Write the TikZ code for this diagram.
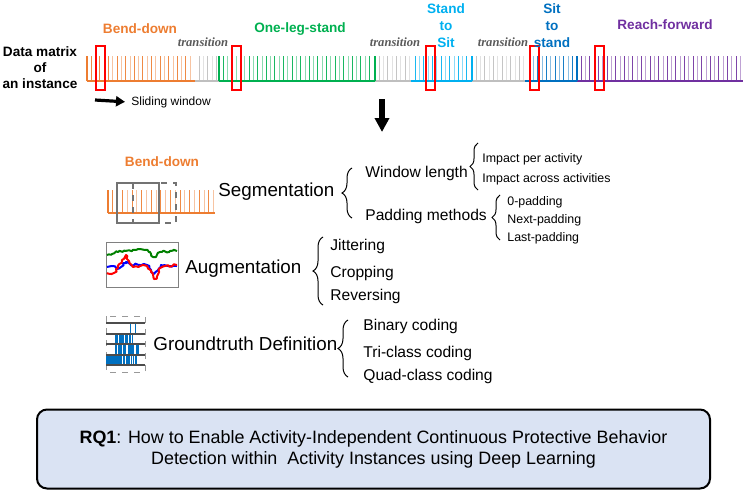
\documentclass[tikz,border=0pt]{standalone}
\usepackage{fontspec}
\setmainfont{Liberation Sans}
\newfontfamily\transfont{Liberation Serif}
\usetikzlibrary{arrows.meta,decorations.pathreplacing,decorations.pathmorphing}

\definecolor{bendc}{RGB}{237,125,49}
\definecolor{legc}{RGB}{0,176,80}
\definecolor{sitc}{RGB}{0,176,240}
\definecolor{standc}{RGB}{0,112,192}
\definecolor{reachc}{RGB}{112,48,160}
\definecolor{transc}{RGB}{191,191,191}
\definecolor{rqfill}{RGB}{218,227,243}

\begin{document}
\begin{tikzpicture}[x=0.5pt,y=-0.5pt,
  lbl/.style={font=\bfseries\fontsize{6.8}{8.5}\selectfont,align=center,inner sep=0pt},
  trans/.style={font=\transfont\bfseries\itshape\fontsize{6.3}{7}\selectfont,text=black!65,inner sep=0pt},
  big/.style={anchor=mid west,font=\fontsize{9.4}{11}\selectfont,inner sep=0pt},
  sub/.style={anchor=mid west,font=\fontsize{7.8}{9}\selectfont,inner sep=0pt},
  subsub/.style={anchor=mid west,font=\fontsize{6.2}{7}\selectfont,inner sep=0pt},
  win/.style={red,line width=1pt},
  grp/.style={decorate,decoration={brace,amplitude=#1},line width=0.5pt},
  grp/.default=5pt,
  signal/.style={line width=1pt,line join=round,decorate,decoration={random steps,segment length=1pt,amplitude=0.6pt}}]
\useasboundingbox (0,0) rectangle (747,493);
\pgfmathsetseed{7}

% data matrix of one instance
\node[lbl,font=\bfseries\fontsize{6.8}{8}\selectfont] (matrix) at (40,68) {Data matrix\\of\\an instance};
\foreach \xa/\xb/\col in {87/195/bendc,195/219/transc,219/375/legc,375/411/transc,411/472/sitc,472/525/transc,525/577/standc,577/743/reachc}{
  \draw[\col,line width=0.75pt] (\xa,81) -- (\xb,81);
  \pgfmathtruncatemacro\n{(\xb-\xa)/4.3-0.3}
  \foreach \i [evaluate=\i as \op using {0.45+0.45*mod(\i,2)}] in {1,...,\n}
    \draw[\col,line width=0.5pt,opacity=\op] (\xa+4.3*\i,56) -- (\xa+4.3*\i,81);
}
\foreach \xt/\col in {87/bendc,219/legc,375/legc,472/sitc,577/standc}
  \draw[\col,line width=1pt] (\xt,56) -- (\xt,81);
\foreach \wx in {100.5,236.5,430,534,599}
  \draw[win] (\wx-4.5,46) rectangle (\wx+4.5,90);

\node[lbl,text=bendc] (bend) at (140,29) {Bend-down};
\node[lbl,text=legc] (leg) at (300,29) {One-leg-stand};
\node[lbl,text=sitc] (standsit) at (446,26) {Stand\\to\\Sit};
\node[lbl,text=standc] (sitstand) at (552,26) {Sit\\to\\stand};
\node[lbl,text=reachc] (reach) at (665,25) {Reach-forward};
\node[trans] (trans1) at (203,42) {transition};
\node[trans] (trans2) at (395,42) {transition};
\node[trans] (trans3) at (503,42) {transition};

\coordinate (slidestart) at (95,100);
\node[subsub,font=\fontsize{6}{7}\selectfont] (slide) at (131,100) {Sliding window};
\draw[line width=1.6pt,-{Triangle[width=5pt,length=4.5pt]},shorten >=3pt] (slidestart) -- (slide.west);

\coordinate (downtop) at (382,99);
\coordinate (downtip) at (382,132);
\draw[line width=3pt,-{Triangle[width=7pt,length=7pt]}] (downtop) -- (downtip);

% segmentation
\node[lbl,text=bendc] (bendmini) at (162,162) {Bend-down};
\draw[bendc,line width=0.75pt] (108,213) -- (215,213);
\draw[bendc,line width=1pt] (108,190) -- (108,213);
\foreach \i [evaluate=\i as \op using {0.45+0.45*mod(\i,2)}] in {1,...,22}
  \draw[bendc,line width=0.5pt,opacity=\op] (108+4.8*\i,190) -- (108+4.8*\i,213);
\draw[black!55,dashed,line width=0.6pt] (133,183) rectangle (176,223);
\draw[black!55,line width=0.6pt] (117,183) rectangle (159,223);

\node[big] (seg) at (218,191) {Segmentation};
\node[sub] (winlen) at (365,172) {Window length};
\node[sub] (pad) at (365,215) {Padding methods};
\node[subsub] (peract) at (482,157) {Impact per activity};
\node[subsub] (acrossact) at (482,177) {Impact across activities};
\node[subsub] (zeropad) at (507,200) {0-padding};
\node[subsub] (nextpad) at (507,218) {Next-padding};
\node[subsub] (lastpad) at (507,236) {Last-padding};
\draw[grp] (352,218) -- (352,168);
\draw[grp=4pt] (478,190) -- (478,143);
\draw[grp=4pt] (500,240) -- (500,195);

% augmentation
\draw[black!50,line width=0.5pt] (106,242) rectangle (178,287);
\draw[signal,green!50!black] (107,255) -- (112,254) -- (118,252) -- (125,251) -- (135,250) -- (145,250) -- (150,252) -- (153,257) -- (156,257) -- (160,252) -- (170,251) -- (177,251);
\draw[signal,blue] (107,267) -- (113,266) -- (117,269) -- (121,267) -- (126,262) -- (130,264) -- (140,265) -- (147,265) -- (151,270) -- (154,274) -- (157,271) -- (161,265) -- (170,266) -- (177,266);
\draw[signal,red] (107,273) -- (114,273) -- (118,268) -- (122,260) -- (126,255) -- (129,261) -- (133,267) -- (140,266) -- (147,266) -- (151,272) -- (154,279) -- (157,278) -- (160,268) -- (165,266) -- (177,265);

\node[big] (aug) at (185,268) {Augmentation};
\draw[grp] (323,305) -- (323,237);
\node[sub] (jit) at (330,245) {Jittering};
\node[sub] (crop) at (330,272) {Cropping};
\node[sub] (rev) at (330,295) {Reversing};

% groundtruth definition
\draw[black!40,dashed,line width=0.5pt] (106,316) rectangle (145,372);
\foreach \ya/\xa/\xb in {323/129.5/130.5,323/134.5/135.5,
    334/115/118,334/119/124,334/125/128,334/129/131,334/132/133,
    344/115/117,344/118/122,344/123/126,344/128/134,344/136/139,
    355/106/122,355/123/125,355/126/130,355/131/132,355/133/134,355/135/137}
  \fill[standc] (\xa,\ya) rectangle (\xb,\ya+10.5);
\foreach \yl in {323,334,344,355,365}
  \draw[black!70,line width=0.6pt] (106,\yl) -- (145,\yl);

\node[big] (gt) at (153,345) {Groundtruth Definition};
\draw[grp] (348,377) -- (348,320);
\node[sub] (binary) at (363,325) {Binary coding};
\node[sub] (tri) at (363,352) {Tri-class coding};
\node[sub] (quad) at (363,375) {Quad-class coding};

% research question
\node[draw,line width=1pt,fill=rqfill,rounded corners=5pt,minimum width=336.5pt,minimum height=39.5pt,align=center,font=\fontsize{8.95}{10.5}\selectfont] (rq) at (373.5,449) {\textbf{RQ1}: How to Enable Activity-Independent Continuous Protective Behavior\\Detection within\ \ Activity Instances using Deep Learning};
\end{tikzpicture}
\end{document}
